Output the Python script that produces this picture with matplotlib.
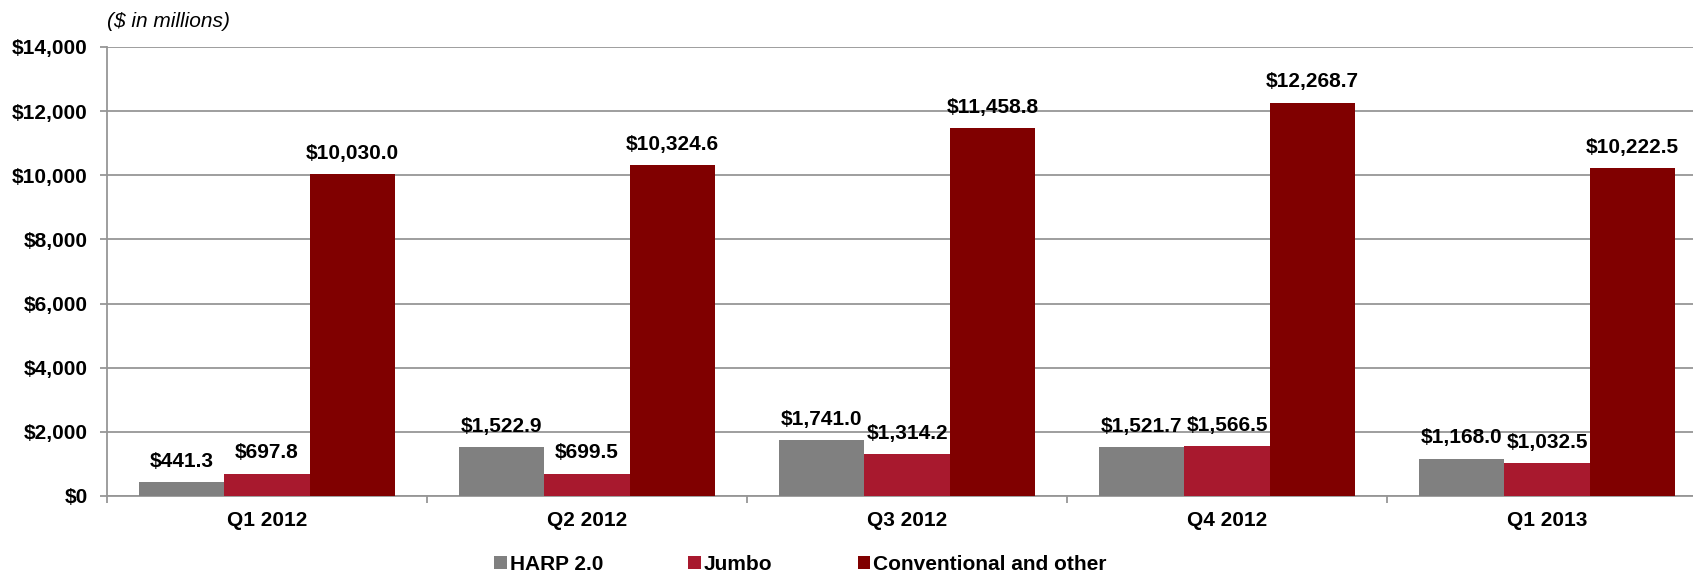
import matplotlib.pyplot as plt
from matplotlib.ticker import FuncFormatter, MultipleLocator
import numpy as np

quarters = ['Q1 2012', 'Q2 2012', 'Q3 2012', 'Q4 2012', 'Q1 2013']
series_names = ['HARP 2.0', 'Jumbo', 'Conventional and other']
harp = [441.3, 1522.9, 1741.0, 1521.7, 1168.0]
jumbo = [697.8, 699.5, 1314.2, 1566.5, 1032.5]
conventional = [10030.0, 10324.6, 11458.8, 12268.7, 10222.5]
colors = ['#808080', '#A8192E', '#800000']

plt.rcParams['font.family'] = ['Liberation Sans', 'DejaVu Sans']

fig = plt.figure(figsize=(16.93, 5.73), dpi=100)
ax = fig.add_axes([0.0632, 0.1344, 0.9451, 0.7836])

x = np.arange(len(quarters))
width = 0.267
grid_color = '#969696'

for i, (vals, name, col) in enumerate(zip([harp, jumbo, conventional], series_names, colors)):
    bars = ax.bar(x + (i - 1) * width, vals, width, color=col, label=name, zorder=3)
    for b, v in zip(bars, vals):
        ax.annotate(f'${v:,.1f}', (b.get_x() + b.get_width() / 2, v),
                    xytext=(0, 8), textcoords='offset points',
                    ha='center', va='bottom', fontsize=15, fontweight='bold')

ax.set_xlim(-0.5, len(quarters) - 0.5)
ax.set_ylim(0, 14000)
ax.yaxis.set_major_locator(MultipleLocator(2000))
ax.yaxis.set_major_formatter(FuncFormatter(lambda v, p: f'${v:,.0f}'))
ax.grid(axis='y', color=grid_color, linewidth=1.3, zorder=0)

ax.set_xticks(x)
ax.set_xticklabels(quarters)
ax.set_xticks(np.arange(len(quarters) + 1) - 0.5, minor=True)
ax.tick_params(axis='x', which='major', length=0, pad=11, labelsize=15)
ax.tick_params(axis='x', which='minor', length=5, color=grid_color, width=1.3)
ax.tick_params(axis='y', length=5, color=grid_color, width=1.3, pad=9, labelsize=15)
for lbl in ax.get_xticklabels() + ax.get_yticklabels():
    lbl.set_fontweight('bold')

for s in ['top', 'right']:
    ax.spines[s].set_visible(False)
for s in ['left', 'bottom']:
    ax.spines[s].set_color(grid_color)
    ax.spines[s].set_linewidth(1.3)

fig.text(0.0632, 0.963, '($ in millions)', fontsize=15, style='italic', va='center', ha='left')

fig.legend(loc='center', bbox_to_anchor=(0.4728, 0.0157), ncol=3, frameon=False,
           prop={'size': 15, 'weight': 'bold'}, handlelength=0.58, handleheight=0.58,
           handletextpad=0.15, columnspacing=4.1, borderpad=0)

fig.savefig('out.png', dpi=100)
